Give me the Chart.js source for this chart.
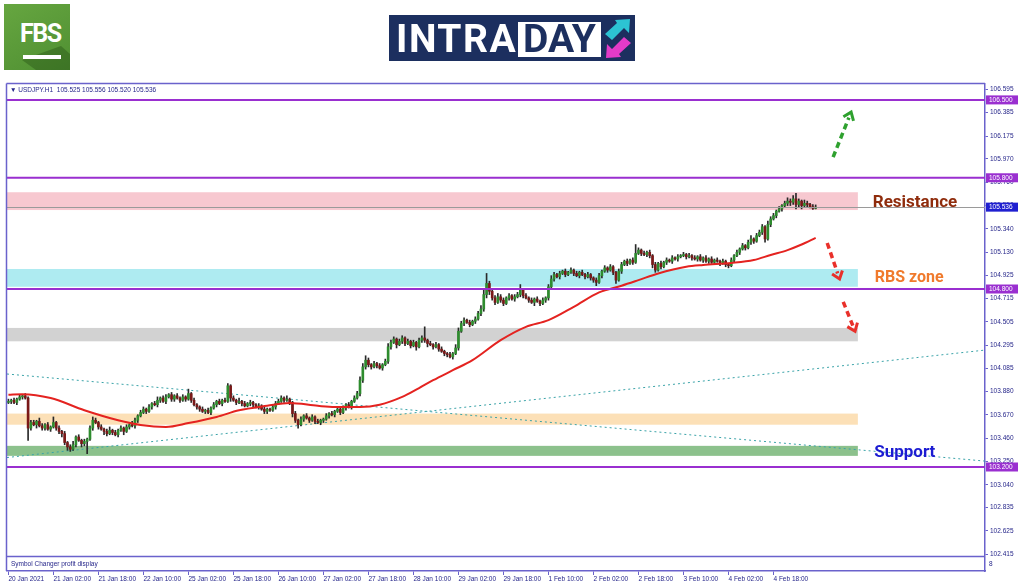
<!DOCTYPE html>
<html><head><meta charset="utf-8">
<script src="https://cdn.jsdelivr.net/npm/chart.js@4.4.1/dist/chart.umd.min.js"></script>
<style>
html,body{margin:0;padding:0;background:#fff;width:1024px;height:587px;overflow:hidden;}
#wrap{position:relative;width:1024px;height:587px;}
#c{position:absolute;left:0;top:0;}
.fbs{position:absolute;left:4px;top:4px;width:66px;height:66px;background:linear-gradient(150deg,#66a640 0%,#4f8f32 100%);overflow:hidden;}
.fbs .sh{position:absolute;left:0;top:0;width:66px;height:66px;background:rgba(30,70,15,0.35);clip-path:polygon(18px 56px,57px 42px,66px 50px,66px 66px,32px 66px);}
.fbs .tx{position:absolute;left:16px;top:16px;font:700 25px/28px Roboto,sans-serif;color:#fff;letter-spacing:-1.5px;}
.fbs .ul{position:absolute;left:19px;top:51px;width:38px;height:4px;background:#fff;}
.intra{position:absolute;left:389px;top:15px;width:246px;height:46px;background:#1c2f5f;}
.intra .t1{position:absolute;left:7px;top:5px;font:700 39px/39px Roboto,sans-serif;color:#fff;letter-spacing:1.5px;}
.intra .box{position:absolute;left:129px;top:7px;width:83px;height:35px;background:#fff;}
.intra .t2{position:absolute;left:129px;top:5px;width:83px;text-align:center;font:700 39px/39px Roboto,sans-serif;color:#1c2f5f;}
.intra svg{position:absolute;left:0;top:0;}
</style></head>
<body><div id="wrap">
<canvas id="c" width="1024" height="587"></canvas>
<div class="fbs"><div class="sh"></div><div class="tx">FBS</div><div class="ul"></div></div>
<div class="intra"><span class="t1">INTRA</span><div class="box"></div><span class="t2">DAY</span>
<svg width="246" height="46"><polygon points="241,4 240,18 235,13 223,25 216,19 228,8 226,5" fill="#2cc3d3"/><polygon points="217,43 218,29 223,34 235,22 242,28 230,39 232,42" fill="#e33bc8"/></svg>
</div>
</div>
<script>
// ---- data (USDJPY H1, 20 Jan 2021 10:00 .. 5 Feb 2021) ----
const closes = [
103.79,103.80,103.78,103.81,103.83,103.84,103.82,103.55,103.60,103.58,103.61,103.57,103.55,103.58,103.54,103.56,
103.60,103.55,103.52,103.50,103.42,103.38,103.36,103.40,103.47,103.44,103.41,103.43,103.45,103.55,103.62,103.60,
103.56,103.54,103.52,103.50,103.53,103.51,103.49,103.53,103.55,103.52,103.56,103.58,103.57,103.62,103.66,103.69,
103.72,103.70,103.74,103.77,103.76,103.80,103.82,103.79,103.83,103.85,103.81,103.84,103.82,103.80,103.83,103.81,
103.86,103.80,103.76,103.74,103.72,103.70,103.71,103.69,103.73,103.76,103.79,103.77,103.80,103.79,103.93,103.82,
103.80,103.78,103.79,103.77,103.75,103.77,103.78,103.76,103.74,103.75,103.72,103.70,103.72,103.71,103.74,103.77,
103.79,103.82,103.80,103.81,103.78,103.68,103.62,103.58,103.63,103.66,103.64,103.62,103.65,103.61,103.60,103.62,
103.63,103.66,103.68,103.67,103.70,103.72,103.69,103.73,103.76,103.74,103.79,103.82,103.86,103.98,104.10,104.16,
104.12,104.10,104.13,104.11,104.09,104.12,104.15,104.28,104.32,104.35,104.30,104.33,104.36,104.31,104.33,104.29,
104.32,104.28,104.34,104.36,104.34,104.31,104.30,104.28,104.30,104.26,104.24,104.22,104.21,104.19,104.22,104.27,
104.42,104.49,104.52,104.50,104.48,104.51,104.53,104.58,104.62,104.75,104.85,104.78,104.72,104.68,104.73,104.70,
104.67,104.72,104.74,104.71,104.73,104.75,104.79,104.74,104.72,104.70,104.68,104.71,104.69,104.67,104.70,104.72,
104.82,104.89,104.93,104.91,104.94,104.96,104.93,104.95,104.97,104.94,104.92,104.95,104.93,104.91,104.93,104.90,
104.88,104.86,104.92,104.96,104.99,104.97,105.00,104.95,104.88,104.96,105.02,105.05,105.03,105.06,105.04,105.12,
105.15,105.12,105.11,105.13,105.10,105.02,104.97,105.03,105.00,105.04,105.06,105.05,105.08,105.07,105.09,105.10,
105.11,105.09,105.10,105.08,105.07,105.09,105.06,105.08,105.05,105.07,105.04,105.06,105.05,105.03,105.05,105.02,
105.01,105.06,105.10,105.13,105.16,105.19,105.17,105.22,105.25,105.23,105.28,105.31,105.36,105.25,105.38,105.43,
105.46,105.50,105.52,105.55,105.57,105.59,105.58,105.61,105.56,105.59,105.55,105.57,105.56,105.54,105.525,105.536];
const firstOpen = 103.78;
// wick lengths above / below the body, in 0.01 JPY
const upWick = [
2,1,2,1,2,1,2,1,2,2,1,3,2,1,2,1, 5,1,2,1,2,1,2,3,1,2,1,2,1,2,3,2,
1,2,1,2,3,1,2,1,2,1,2,1,3,2,1,2, 2,1,2,1,2,3,1,2,2,1,2,1,2,1,2,1,
4,1,2,1,1,2,1,2,1,2,1,2,1,2,2,1, 2,1,3,1,2,1,2,1,1,2,1,2,1,1,2,2,
2,2,1,3,1,1,2,1,2,1,2,1,2,1,2,1, 1,2,1,2,1,2,1,2,1,2,1,2,2,3,3,4,
2,1,2,1,2,1,2,3,2,2,1,2,2,1,2,1, 2,1,2,2,10,1,2,1,2,1,2,1,1,2,1,3,
3,2,2,1,2,1,2,2,3,4,9,2,1,2,3,2, 2,1,2,1,2,2,5,1,2,1,2,1,2,1,2,1,
2,3,2,1,2,1,2,1,2,1,2,1,2,1,2,1, 1,2,2,1,2,1,2,1,1,2,2,1,2,1,2,8,
2,1,2,1,2,1,2,1,2,1,2,1,2,1,2,1, 2,1,2,1,2,1,2,1,2,1,2,1,2,1,2,1,
1,2,1,2,1,2,1,2,3,1,2,2,2,1,3,2, 2,1,2,1,2,3,2,3,5,2,1,3,2,1,2,2];
const dnWick = [
1,2,1,2,1,2,1,11,2,1,3,1,2,2,1,2, 1,2,2,3,2,3,2,1,2,1,3,2,11,1,2,1,
2,1,3,2,1,2,1,2,1,3,1,2,1,2,2,1, 1,2,1,2,1,2,2,1,2,1,2,2,1,2,1,2,
1,2,1,2,2,1,2,1,2,1,2,1,2,1,1,3, 1,2,1,2,1,1,2,2,1,2,1,2,2,1,1,2,
1,1,2,1,2,3,2,3,1,2,1,2,1,2,1,2, 2,1,2,1,2,1,2,1,2,1,2,1,1,2,2,2,
2,2,1,2,1,2,1,2,2,1,3,1,2,2,1,2, 1,3,1,2,2,3,1,2,1,2,1,2,2,1,2,1,
2,1,2,1,2,1,2,1,2,2,3,3,2,2,1,2, 2,1,2,1,2,1,2,2,1,2,1,3,1,2,1,2,
2,1,2,1,2,1,2,1,1,2,1,2,1,2,1,2, 2,3,1,2,1,2,1,2,3,1,2,1,2,1,2,1,
1,2,1,2,2,3,2,1,2,1,2,1,2,1,2,1, 1,2,1,2,1,2,1,2,1,2,1,2,1,2,1,2,
2,1,2,1,2,1,2,1,2,2,1,1,2,3,1,2, 1,2,1,2,1,2,3,2,4,2,3,1,2,1,1,0.5];
// moving average (red line), read at selected bars
const maBars   = [0,5,15,27,39,47,56,64,74,82,92,100,110,116,125,132,140,146,151,158,165,175,184,192,201,210,218,224,231,241,247,257,265,271,277,282,287];
const maValues = [103.85,103.855,103.82,103.71,103.62,103.578,103.56,103.595,103.65,103.71,103.75,103.775,103.75,103.74,103.74,103.76,103.83,103.91,103.98,104.07,104.16,104.34,104.46,104.52,104.64,104.77,104.83,104.88,104.94,105.00,105.016,105.034,105.06,105.106,105.15,105.20,105.26];
// dotted trend lines
const trendBars = [-0.5, 347.2];
const trendDownValues = [104.036, 103.253];
const trendUpValues = [103.285, 104.251];
// zones
const zoneNames = ['Resistance','RBS','Mid','Orange','Support'];
const zoneLow  = [105.51, 104.82, 104.33, 103.58, 103.30];
const zoneHigh = [105.67, 104.98, 104.45, 103.68, 103.39];
const zoneEndBar = 302;
// horizontal levels
const levels = [106.5, 105.8, 104.8, 103.2];
const lastPrice = 105.536;
// axis ticks
const yTickValues = [106.595,106.385,106.175,105.970,105.760,105.550,105.340,105.130,104.925,104.715,104.505,104.295,104.085,103.880,103.670,103.460,103.250,103.040,102.835,102.625,102.415];
const yTickLabels = ['106.595','106.385','106.175','105.970','105.760','105.550','105.340','105.130','104.925','104.715','104.505','104.295','104.085','103.880','103.670','103.460','103.250','103.040','102.835','102.625','102.415'];
const xTickBars = [0,16,32,48,64,80,96,112,128,144,160,176,192,208,224,240,256,272];
const xTickLabels = ['20 Jan 2021','21 Jan 02:00','21 Jan 18:00','22 Jan 10:00','25 Jan 02:00','25 Jan 18:00','26 Jan 10:00','27 Jan 02:00','27 Jan 18:00','28 Jan 10:00','29 Jan 02:00','29 Jan 18:00','1 Feb 10:00','2 Feb 02:00','2 Feb 18:00','3 Feb 10:00','4 Feb 02:00','4 Feb 18:00'];
const headerText = '\u25BC USDJPY.H1  105.525 105.556 105.520 105.536';

// ---- derived ----
const opens = closes.map((c, i) => i === 0 ? firstOpen : closes[i - 1]);
const highs = closes.map((c, i) => Math.max(opens[i], c) + upWick[i] / 100);
const lows  = closes.map((c, i) => Math.min(opens[i], c) - dnWick[i] / 100);

// ---- styles ----
const FRAME = '#6a62cc';
const AXIS_TXT = '#26268a';
const FONT = "'Liberation Sans', Arial, sans-serif";
const zoneColors = ['rgba(246,190,200,0.85)','rgba(160,232,238,0.85)','rgba(205,205,205,0.9)','rgba(251,218,170,0.85)','rgba(128,186,128,0.9)'];
const LEVEL_COLOR = '#9a2fd0';
const texts = [
  {t:'Resistance', bar:307.3, v:105.575, color:'#8f2c0c', size:17},
  {t:'RBS zone', bar:308.0, v:104.90, color:'#f07a2c', size:16},
  {t:'Support', bar:307.8, v:103.325, color:'#1c1cd2', size:17}
];
const arrows = [
  {from:[293.2,105.986], to:[299.6,106.39], color:'#2fa12f'},
  {from:[291.1,105.214], to:[295.5,104.89], color:'#e9302a'},
  {from:[296.8,104.685], to:[301.0,104.42], color:'#e9302a'}
];

function drawArrow(ctx, x1, y1, x2, y2, color) {
  const ang = Math.atan2(y2 - y1, x2 - x1);
  ctx.save();
  ctx.strokeStyle = color;
  ctx.lineWidth = 3.5;
  ctx.setLineDash([6, 4]);
  ctx.beginPath();
  ctx.moveTo(x1, y1);
  ctx.lineTo(x2 - Math.cos(ang) * 6, y2 - Math.sin(ang) * 6);
  ctx.stroke();
  ctx.setLineDash([]);
  ctx.lineWidth = 3;
  const L = 9, w = 0.65;
  ctx.beginPath();
  ctx.moveTo(x2 - L * Math.cos(ang - w), y2 - L * Math.sin(ang - w));
  ctx.lineTo(x2, y2);
  ctx.lineTo(x2 - L * Math.cos(ang + w), y2 - L * Math.sin(ang + w));
  ctx.stroke();
  ctx.restore();
}

const overlay = {
  id: 'overlay',
  beforeDatasetsDraw(chart) {
    const {ctx, chartArea: a, scales: {x, y}} = chart;
    ctx.save();
    ctx.beginPath(); ctx.rect(a.left, a.top, a.right - a.left, a.bottom - a.top); ctx.clip();
    const xe = x.getPixelForValue(zoneEndBar);
    zoneLow.forEach((lo, k) => {
      const yt = y.getPixelForValue(zoneHigh[k]);
      const yb = y.getPixelForValue(lo);
      ctx.fillStyle = zoneColors[k];
      ctx.fillRect(a.left, yt, xe - a.left, yb - yt);
    });
    ctx.restore();
  },
  afterDatasetsDraw(chart) {
    const {ctx, chartArea: a, scales: {y}} = chart;
    ctx.save();
    const yp = Math.round(y.getPixelForValue(lastPrice)) + 0.5;
    ctx.strokeStyle = '#9a9a9a'; ctx.lineWidth = 1;
    ctx.beginPath(); ctx.moveTo(a.left, yp); ctx.lineTo(a.right, yp); ctx.stroke();
    ctx.strokeStyle = LEVEL_COLOR; ctx.lineWidth = 2;
    levels.forEach(v => {
      const yy = y.getPixelForValue(v);
      ctx.beginPath(); ctx.moveTo(a.left, yy); ctx.lineTo(a.right, yy); ctx.stroke();
    });
    ctx.restore();
  },
  afterDraw(chart) {
    const {ctx, chartArea: a, scales: {x, y}} = chart;
    ctx.save();
    ctx.strokeStyle = FRAME; ctx.lineWidth = 1.5;
    ctx.beginPath();
    ctx.moveTo(a.left - 0.5, a.top - 0.5); ctx.lineTo(a.right, a.top - 0.5);
    ctx.moveTo(a.left - 0.5, a.top - 0.5); ctx.lineTo(a.left - 0.5, a.bottom);
    ctx.moveTo(a.left - 0.5, 556.5); ctx.lineTo(a.right, 556.5);
    ctx.stroke();
    ctx.fillStyle = AXIS_TXT;
    ctx.font = '6.5px ' + FONT;
    ctx.textBaseline = 'middle'; ctx.textAlign = 'left';
    ctx.fillText('Symbol Changer profit display', a.left + 4, 564);
    ctx.fillText('8', a.right + 4, 564);
    ctx.fillText(headerText, a.left + 3, a.top + 6);
    const box = (v, bg) => {
      const yy = y.getPixelForValue(v);
      ctx.fillStyle = bg;
      ctx.fillRect(a.right + 1, yy - 4.5, 32, 9);
      ctx.fillStyle = '#ffffff';
      ctx.font = '6.5px ' + FONT;
      ctx.textAlign = 'left'; ctx.textBaseline = 'middle';
      ctx.fillText(v.toFixed(3), a.right + 4, yy + 0.5);
    };
    levels.forEach(v => box(v, LEVEL_COLOR));
    box(lastPrice, '#1f1fd0');
    texts.forEach(o => {
      ctx.font = 'bold ' + o.size + 'px Roboto, sans-serif';
      ctx.fillStyle = o.color;
      ctx.textAlign = 'left'; ctx.textBaseline = 'middle';
      ctx.fillText(o.t, x.getPixelForValue(o.bar), y.getPixelForValue(o.v));
    });
    arrows.forEach(o => drawArrow(ctx,
      x.getPixelForValue(o.from[0]), y.getPixelForValue(o.from[1]),
      x.getPixelForValue(o.to[0]), y.getPixelForValue(o.to[1]), o.color));
    ctx.restore();
  }
};

Chart.defaults.font.family = FONT;
const idx = closes.map((_, i) => i);

new Chart(document.getElementById('c'), {
  type: 'bar',
  data: {
    datasets: [
      {type: 'line', label: 'trend down', data: trendBars.map((b, i) => ({x: b, y: trendDownValues[i]})),
       borderColor: '#3aa3a8', borderWidth: 1, borderDash: [2, 3], pointRadius: 0, order: 5},
      {type: 'line', label: 'trend up', data: trendBars.map((b, i) => ({x: b, y: trendUpValues[i]})),
       borderColor: '#3aa3a8', borderWidth: 1, borderDash: [2, 3], pointRadius: 0, order: 5},
      {label: 'wicks', data: idx.map(i => ({x: i, y: [lows[i], highs[i]]})),
       backgroundColor: '#2a2a2a', barThickness: 1, grouped: false, borderWidth: 0, order: 3},
      {label: 'bodies', data: idx.map(i => ({x: i, y: [opens[i], closes[i]]})),
       backgroundColor: idx.map(i => closes[i] >= opens[i] ? '#2e8c2e' : '#7a1818'),
       barThickness: 2, grouped: false, borderWidth: 0, minBarLength: 1, order: 2},
      {type: 'line', label: 'MA', data: maBars.map((b, i) => ({x: b, y: maValues[i]})),
       borderColor: '#e42320', borderWidth: 2, pointRadius: 0, cubicInterpolationMode: 'monotone', order: 1}
    ]
  },
  options: {
    responsive: false,
    animation: false,
    events: [],
    layout: {padding: {left: 7, top: 84, right: 0, bottom: 0}},
    plugins: {legend: {display: false}, tooltip: {enabled: false}},
    scales: {
      x: {
        type: 'linear', position: 'bottom', min: -0.5, max: 347.2, offset: false,
        afterBuildTicks: s => { s.ticks = xTickBars.map(v => ({value: v})); },
        afterFit: s => { s.height = 16; },
        grid: {drawOnChartArea: false, tickLength: 4, color: FRAME, offset: false},
        border: {color: FRAME, width: 1.5},
        ticks: {align: 'start', maxRotation: 0, autoSkip: false, padding: 0, color: AXIS_TXT,
                font: {size: 6.5}, callback: (v, i) => xTickLabels[i]}
      },
      y: {
        type: 'linear', position: 'right', min: 102.265, max: 106.643,
        afterBuildTicks: s => { s.ticks = yTickValues.map(v => ({value: v})); },
        afterFit: s => { s.width = 39; },
        grid: {drawOnChartArea: false, tickLength: 3, color: FRAME},
        border: {color: FRAME, width: 1.5},
        ticks: {autoSkip: false, padding: 2, color: AXIS_TXT, font: {size: 6.5},
                callback: (v, i) => yTickLabels[i]}
      }
    }
  },
  plugins: [overlay]
});
</script>
</body></html>
